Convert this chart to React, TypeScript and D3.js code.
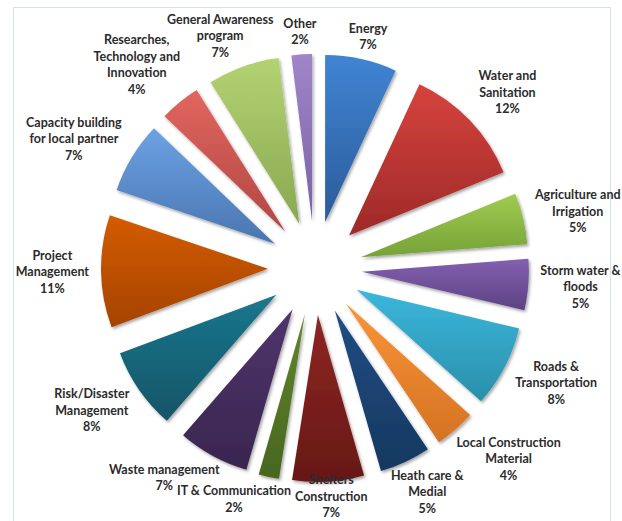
import React, { useEffect, useRef } from "react";
import * as d3 from "d3";

const categories: string[] = [
  "Energy",
  "Water and\nSanitation",
  "Agriculture and\nIrrigation",
  "Storm water &\nfloods",
  "Roads &\nTransportation",
  "Local Construction\nMaterial",
  "Heath care &\nMedial",
  "Shelters\nConstruction",
  "IT & Communication",
  "Waste management",
  "Risk/Disaster\nManagement",
  "Project\nManagement",
  "Capacity building\nfor local partner",
  "Researches,\nTechnology and\nInnovation",
  "General Awareness\nprogram",
  "Other",
];
const values: number[] = [7, 12, 5, 5, 8, 4, 5, 7, 2, 7, 8, 11, 7, 4, 7, 2];
const topColors: string[] = [
  "#4084d3", "#d6433e", "#a0cb50", "#8360b0", "#3bb7dc", "#f99536",
  "#214d84", "#8e2623", "#62852c", "#4f356c", "#1b778e", "#d45c06",
  "#6ca2e4", "#e2665f", "#b3d372", "#a086c9",
];
const bottomColors: string[] = [
  "#2a5c9a", "#9e2927", "#76a238", "#5c4283", "#2a8faa", "#d57224",
  "#163860", "#671816", "#48661f", "#39264f", "#125466", "#a54304",
  "#4a75b0", "#b04643", "#89a851", "#7a60a4",
];

const W = 622;
const H = 521;
const CX = 315;
const CY = 268;
const R = 167;
const EXPLODE = 47;
const LABEL_RX = 226;
const LABEL_RY = 220;
const LINE_H = 16.5;
const FONT_SIZE = 12.5;
const PAD = 4;

type Lab = {
  node: d3.Selection<SVGTextElement, unknown, null, undefined>;
  cx: number;
  top: number;
  widths: number[];
};

export default function App() {
  const ref = useRef<SVGSVGElement | null>(null);

  useEffect(() => {
    const svg = d3.select(ref.current);
    svg.selectAll("*").remove();

    const defs = svg.append("defs");
    const f = defs.append("filter").attr("id", "shadow").attr("x", "-20%").attr("y", "-20%").attr("width", "140%").attr("height", "140%");
    f.append("feDropShadow").attr("dx", 1.5).attr("dy", 2).attr("stdDeviation", 1.8)
      .attr("flood-color", "#000").attr("flood-opacity", 0.35);

    values.forEach((_, i) => {
      const g = defs.append("linearGradient").attr("id", `g${i}`)
        .attr("x1", 0).attr("y1", 0).attr("x2", 0).attr("y2", 1);
      g.append("stop").attr("offset", "0%").attr("stop-color", topColors[i]);
      g.append("stop").attr("offset", "100%").attr("stop-color", bottomColors[i]);
    });

    // chart border
    svg.append("rect").attr("x", 13.5).attr("y", 7.5).attr("width", 597).attr("height", 530)
      .attr("fill", "#fff").attr("stroke", "#d6e0ec").attr("stroke-width", 1);

    const pie = d3.pie<number>().sort(null).value((d) => d).startAngle(0).endAngle(2 * Math.PI);
    const arcs = pie(values);
    const arc = d3.arc<d3.PieArcDatum<number>>().innerRadius(0).outerRadius(R);

    const gPie = svg.append("g").attr("transform", `translate(${CX},${CY})`);
    gPie.selectAll("path").data(arcs).enter().append("path")
      .attr("d", arc as any)
      .attr("fill", (_, i) => `url(#g${i})`)
      .attr("filter", "url(#shadow)")
      .attr("transform", (d) => {
        const m = (d.startAngle + d.endAngle) / 2;
        return `translate(${EXPLODE * Math.sin(m)},${-EXPLODE * Math.cos(m)})`;
      });

    const gLab = svg.append("g");
    const labs: Lab[] = [];
    arcs.forEach((d, i) => {
      const m = (d.startAngle + d.endAngle) / 2;
      const lines = [...categories[i].split("\n"), `${values[i]}%`];
      const t = gLab.append("text")
        .attr("font-family", "Lato, 'Open Sans', sans-serif")
        .attr("font-weight", "bold")
        .attr("font-size", FONT_SIZE)
        .attr("fill", "#2b2b2b")
        .attr("text-anchor", "middle");
      const widths: number[] = [];
      lines.forEach((ln, k) => {
        const ts = t.append("tspan").attr("x", 0).attr("y", k * LINE_H).text(ln);
        widths.push((ts.node() as SVGTSpanElement).getComputedTextLength());
      });
      const w = Math.max(...widths);
      const h = lines.length * LINE_H;
      const s = Math.sin(m);
      const c = -Math.cos(m);
      const mx = Math.max(Math.abs(s), Math.abs(c));
      const ax = CX + LABEL_RX * s;
      const ay = CY + LABEL_RY * c;
      const cx = ax + (s / mx) * w / 2;
      let cy = ay + (c / mx) * h / 2;
      if (cy + h / 2 > H) cy = H - h / 2;
      labs.push({ node: t, cx, top: cy - h / 2, widths });
    });

    // resolve overlaps: labels nearer the vertical axis stay, outer ones slide outward
    const order = labs.slice().sort((a, b) => Math.abs(a.cx - CX) - Math.abs(b.cx - CX));
    const placed: Lab[] = [];
    const overlap = (a: Lab, b: Lab) => {
      let need = 0;
      a.widths.forEach((wa, ka) => {
        const ay0 = a.top + ka * LINE_H + 2, ay1 = a.top + (ka + 1) * LINE_H - 2;
        b.widths.forEach((wb, kb) => {
          const by0 = b.top + kb * LINE_H + 2, by1 = b.top + (kb + 1) * LINE_H - 2;
          if (ay1 <= by0 || by1 <= ay0) return;
          const ov = Math.min(a.cx + wa / 2, b.cx + wb / 2) - Math.max(a.cx - wa / 2, b.cx - wb / 2);
          if (ov > -PAD) need = Math.max(need, ov + PAD);
        });
      });
      return need;
    };
    order.forEach((lab) => {
      const dir = lab.cx >= CX ? 1 : -1;
      for (let iter = 0; iter < 20; iter++) {
        let need = 0;
        placed.forEach((p) => { need = Math.max(need, overlap(lab, p)); });
        if (need <= 0) break;
        lab.cx += dir * need;
      }
      placed.push(lab);
    });

    labs.forEach((lab) => {
      lab.node.attr("transform", `translate(${lab.cx},${lab.top + 12.5})`);
    });
  }, []);

  return (
    <svg ref={ref} width={W} height={H}
      style={{ position: "fixed", left: 0, top: 0, background: "#fff" }} />
  );
}
